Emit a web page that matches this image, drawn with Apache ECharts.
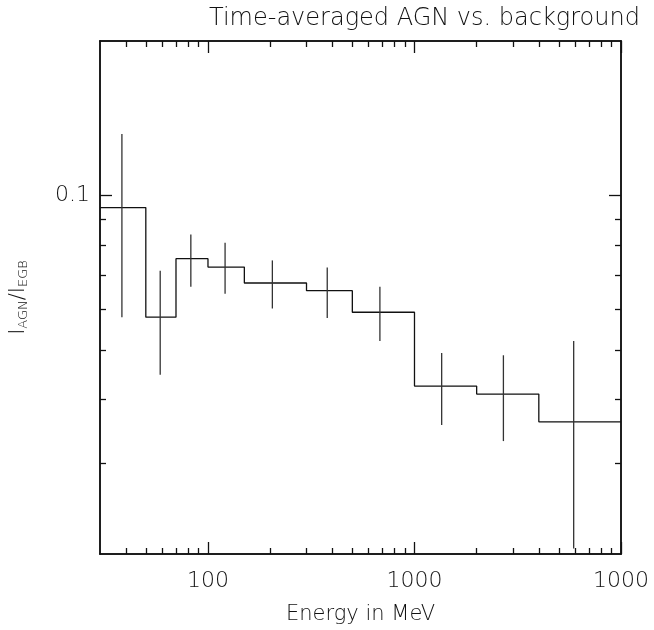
<!DOCTYPE html>
<html><head><meta charset="utf-8">
<script src="https://cdn.jsdelivr.net/npm/echarts@6/dist/echarts.min.js"></script>
<style>html,body{margin:0;padding:0;background:#fff}#c{width:654px;height:630px}</style>
</head><body><div id="c"></div>
<script>
// Bin edges (MeV) and time-averaged AGN / EGB ratio per bin
const binEdges = [30, 50, 70, 100, 150, 300, 500, 1000, 2000, 4000, 10000];
const ratio    = [0.0947, 0.0579, 0.0753, 0.0725, 0.0675, 0.0652, 0.0592, 0.0425, 0.0410, 0.0362];
// Error bars: energy position, lower and upper value
const errX     = [38.3, 58.7, 82.6, 121, 205, 378, 680, 1354, 2695, 5900];
const errLow   = [0.0579, 0.0447, 0.0664, 0.0643, 0.0602, 0.0577, 0.0520, 0.0357, 0.0332, 0.0205];
const errHigh  = [0.1318, 0.0713, 0.0839, 0.0809, 0.0747, 0.0724, 0.0664, 0.0493, 0.0488, 0.0520];
// Tick values and labels
const xMajorTicks = [100, 1000, 10000];
const xTickLabels = ['100', '1000', '1000'];
const xMinorTicks = [40, 50, 60, 70, 80, 90, 200, 300, 400, 500, 600, 700, 800, 900, 2000, 3000, 4000, 5000, 6000, 7000, 8000, 9000];
const yMajorTicks = [0.1];
const yTickLabels = ['0.1'];
const yMinorTicks = [0.03, 0.04, 0.05, 0.06, 0.07, 0.08, 0.09];

const FONT = 'DejaVu Sans';
const INK = '#111';

function pickLabel(ticks, labels) {
  return function (v) {
    for (let i = 0; i < ticks.length; i++) {
      if (Math.abs(Math.log10(v) - Math.log10(ticks[i])) < 1e-6) return labels[i];
    }
    return '';
  };
}

const X_MIN = 30, X_MAX = 10000, Y_MIN = 0.02, Y_MAX = 0.2;

function xAx(position, ticks, len, extra) {
  return Object.assign({
    type: 'log', logBase: 10, min: X_MIN, max: X_MAX, position: position,
    axisLine: { show: true, lineStyle: { color: INK, width: 1.5 } },
    axisTick: { show: true, inside: true, length: len, customValues: ticks, lineStyle: { color: INK, width: 1.3 } },
    axisLabel: { show: false },
    splitLine: { show: false }, minorTick: { show: false }, minorSplitLine: { show: false }
  }, extra || {});
}
function yAx(position, ticks, len, extra) {
  return Object.assign({
    type: 'log', logBase: 10, min: Y_MIN, max: Y_MAX, position: position,
    axisLine: { show: true, lineStyle: { color: INK, width: 1.5 } },
    axisTick: { show: true, inside: true, length: len, customValues: ticks, lineStyle: { color: INK, width: 1.3 } },
    axisLabel: { show: false },
    splitLine: { show: false }, minorTick: { show: false }, minorSplitLine: { show: false }
  }, extra || {});
}

const stepData = binEdges.map((e, i) => [e, ratio[Math.min(i, ratio.length - 1)]]);
const errData = errX.map((x, i) => [x, errLow[i], errHigh[i]]);

const chart = echarts.init(document.getElementById('c'), null, { renderer: 'canvas' });
chart.setOption({
  animation: false,
  backgroundColor: '#fff',
  title: {
    text: 'Time-averaged AGN vs. background',
    left: 204, top: 2,
    textStyle: { fontFamily: FONT, fontWeight: 200, fontSize: 24, color: INK }
  },
  grid: { left: 97, top: 41, width: 524, height: 517, containLabel: false },
  xAxis: [
    xAx('bottom', xMajorTicks, 12, {
      axisLabel: { show: true, customValues: xMajorTicks, formatter: pickLabel(xMajorTicks, xTickLabels),
        margin: 16, fontFamily: FONT, fontWeight: 200, fontSize: 22, color: INK },
      name: 'Energy in MeV', nameLocation: 'middle', nameGap: 50,
      nameTextStyle: { fontFamily: FONT, fontWeight: 200, fontSize: 21, color: INK }
    }),
    xAx('bottom', xMinorTicks, 6),
    xAx('top', xMajorTicks, 12),
    xAx('top', xMinorTicks, 6)
  ],
  yAxis: [
    yAx('left', yMajorTicks, 12, {
      axisLabel: { show: true, customValues: yMajorTicks, formatter: pickLabel(yMajorTicks, yTickLabels),
        margin: 10, fontFamily: FONT, fontWeight: 200, fontSize: 22, color: INK },
      name: '{m|I}{s|AGN}{m|/I}{s|EGB}', nameLocation: 'middle', nameGap: 70, nameRotate: 90,
      nameTextStyle: {
        fontFamily: FONT, fontWeight: 200, color: INK,
        rich: {
          m: { fontFamily: FONT, fontWeight: 200, fontSize: 21, color: INK },
          s: { fontFamily: FONT, fontWeight: 200, fontSize: 13, color: INK, padding: [10, 0, 0, 0] }
        }
      }
    }),
    yAx('left', yMinorTicks, 6),
    yAx('right', yMajorTicks, 12),
    yAx('right', yMinorTicks, 6)
  ],
  series: [
    {
      type: 'line', step: 'end', xAxisIndex: 0, yAxisIndex: 0,
      data: stepData, showSymbol: false, symbol: 'none',
      lineStyle: { color: INK, width: 1.3 }, silent: true, z: 3
    },
    {
      type: 'custom', xAxisIndex: 0, yAxisIndex: 0,
      data: errData, silent: true, z: 4,
      encode: { x: 0, y: [1, 2] },
      renderItem: function (params, api) {
        const p0 = api.coord([api.value(0), api.value(1)]);
        const p1 = api.coord([api.value(0), api.value(2)]);
        return { type: 'line', shape: { x1: p0[0], y1: p0[1], x2: p1[0], y2: p1[1] },
          style: { stroke: '#333', lineWidth: 1.3 } };
      }
    }
  ]
});
</script>
</body></html>
